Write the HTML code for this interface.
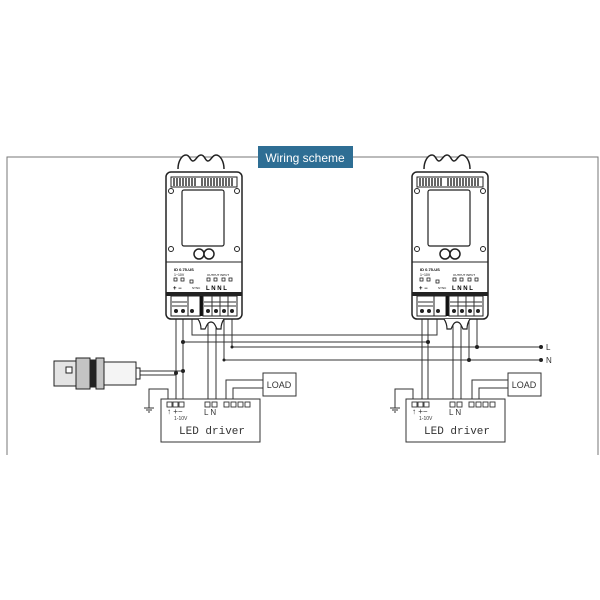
<!DOCTYPE html>
<html><head><style>body{margin:0;background:#fff}svg{display:block}</style></head><body>
<svg width="600" height="600" viewBox="0 0 600 600" xmlns="http://www.w3.org/2000/svg" font-family="Liberation Sans, sans-serif">
<g fill="none" stroke="#777" stroke-width="1">
<path d="M7 455V157H258M352 157H598V455"/>
</g>
<rect x="258" y="146" width="95" height="22" fill="#2e6e94"/>
<text x="305" y="162" font-size="12" fill="#fff" text-anchor="middle">Wiring scheme</text>

<defs>
<g id="sensor">
<path d="M12 -3c0-8 4-14 8-14s4 6 7 6 4-6 8-6 4 6 7 6 4-6 8-6 8 6 8 14" fill="#fff" stroke="#222" stroke-width="1.5"/>
<rect x="0" y="0" width="76" height="147" rx="5" fill="#fff" stroke="#222" stroke-width="1.5"/>
<rect x="5" y="5" width="66" height="10" fill="#fff" stroke="#222"/>
<path d="M8 6v8M11 6v8M14 6v8M17 6v8M20 6v8M23 6v8M26 6v8M29 6v8M36 6v8M39 6v8M42 6v8M45 6v8M48 6v8M51 6v8M54 6v8M57 6v8M60 6v8M63 6v8M66 6v8" stroke="#333" stroke-width="1.5"/>
<circle cx="5" cy="19" r="2.5" fill="#fff" stroke="#222"/><circle cx="71" cy="19" r="2.5" fill="#fff" stroke="#222"/>
<circle cx="5" cy="77" r="2.5" fill="#fff" stroke="#222"/><circle cx="71" cy="77" r="2.5" fill="#fff" stroke="#222"/>
<rect x="16" y="18" width="42" height="56" rx="2" fill="#fff" stroke="#222" stroke-width="1.2"/>
<path d="M0 90H76" stroke="#222"/>
<circle cx="33" cy="82" r="5" fill="#fff" stroke="#222" stroke-width="1.5"/><circle cx="43" cy="82" r="5" fill="#fff" stroke="#222" stroke-width="1.5"/>
<text x="8" y="99" font-size="4" font-weight="bold">ID 0.75-US</text>
<text x="8" y="104" font-size="3.5">1~10V</text>
<text x="41" y="104" font-size="3">OUTPUT INPUT</text>
<g fill="#fff" stroke="#222" stroke-width=".8">
<rect x="8" y="106" width="3" height="3"/><rect x="15" y="106" width="3" height="3"/><rect x="24" y="108" width="3" height="3"/>
<rect x="41" y="106" width="3" height="3"/><rect x="48" y="106" width="3" height="3"/><rect x="56" y="106" width="3" height="3"/><rect x="63" y="106" width="3" height="3"/>
</g>
<text x="7" y="118" font-size="6" font-weight="bold">+ −</text>
<text x="26" y="117" font-size="3">SYNC</text>
<text x="40" y="118" font-size="6" font-weight="bold">L N N L</text>
<rect x="0" y="120" width="76" height="4" fill="#222"/>
<rect x="5" y="124" width="17" height="20" fill="#fff" stroke="#222"/>
<rect x="22" y="124" width="12" height="20" fill="#fff" stroke="#222"/>
<rect x="34" y="124" width="3" height="20" fill="#111"/>
<rect x="37" y="124" width="34" height="20" fill="#fff" stroke="#222"/>
<path d="M6 130h15M6 134h15M38 130h32M38 134h32M46 124v20M54 124v20M62 124v20" stroke="#333"/>
<g fill="#222"><circle cx="10" cy="139" r="2"/><circle cx="17" cy="139" r="2"/><circle cx="26" cy="139" r="2"/><circle cx="42" cy="139" r="2"/><circle cx="50" cy="139" r="2"/><circle cx="58" cy="139" r="2"/><circle cx="66" cy="139" r="2"/></g>
<path d="M32 147c2 3 3 6 3 10h4c2-4 3-7 6-7s4 3 6 7h4c0-4 1-7 3-10" fill="#fff" stroke="#222" stroke-width="1.2"/>
</g>
<g id="driver">
<rect x="0" y="0" width="99" height="43" fill="#fff" stroke="#333"/>
<g fill="#fff" stroke="#333" stroke-width=".9">
<rect x="6" y="3" width="5" height="5"/><rect x="12" y="3" width="5" height="5"/><rect x="18" y="3" width="5" height="5"/>
<rect x="44" y="3" width="5" height="5"/><rect x="51" y="3" width="5" height="5"/>
<rect x="63" y="3" width="5" height="5"/><rect x="70" y="3" width="5" height="5"/><rect x="77" y="3" width="5" height="5"/><rect x="84" y="3" width="5" height="5"/>
</g>
<text x="6" y="15" font-size="8" fill="#333">↑ +−</text>
<text x="13" y="21" font-size="5" fill="#333">1-10V</text>
<text x="43" y="16" font-size="8" fill="#333">L N</text>
<text x="18" y="35" font-size="11" fill="#333" font-family="Liberation Mono, monospace">LED driver</text>
</g>
</defs>

<g fill="none" stroke="#333" stroke-width="1">
<path d="M176 315V402M183 315V402M192 315V335H437V315"/>
<path d="M208 315V402M216 315V402"/>
<path d="M183 342H428"/>
<path d="M232 315V347H541"/>
<path d="M224 315V360H541"/>
<path d="M140 371H183M140 375H176"/>
<path d="M422 315V402M428 315V402M453 315V402M461 315V402M469 315V360M477 315V347"/>
<path d="M168 402V389H149V408M144 408h10M146 410h6M148 412h2"/>
<path d="M413 402V389H395V408M390 408h10M392 410h6M394 412h2"/>
<path d="M226 402V380H263M233 402V388H263"/>
<path d="M472 402V380H508M479 402V388H508"/>
</g>
<g fill="#222">
<circle cx="183" cy="342" r="2"/><circle cx="428" cy="342" r="2"/>
<circle cx="232" cy="347" r="1.5"/><circle cx="224" cy="360" r="1.5"/>
<circle cx="477" cy="347" r="2"/><circle cx="469" cy="360" r="2"/>
<circle cx="541" cy="347" r="2"/><circle cx="541" cy="360" r="2"/>
<circle cx="176" cy="373" r="2"/><circle cx="183" cy="371" r="2"/>
</g>
<text x="546" y="350" font-size="8" fill="#333">L</text>
<text x="546" y="363" font-size="8" fill="#333">N</text>

<use href="#sensor" x="166" y="172"/>
<use href="#sensor" x="412" y="172"/>
<use href="#driver" x="161" y="399"/>
<use href="#driver" x="406" y="399"/>

<rect x="263" y="373" width="33" height="23" fill="#fff" stroke="#333"/>
<text x="279" y="388" font-size="9" text-anchor="middle" fill="#333">LOAD</text>
<rect x="508" y="373" width="33" height="23" fill="#fff" stroke="#333"/>
<text x="524" y="388" font-size="9" text-anchor="middle" fill="#333">LOAD</text>

<g stroke="#222" fill="#fff">
<rect x="54" y="361" width="22" height="25" fill="#e4e4e4"/>
<rect x="66" y="367" width="6" height="6" fill="#fff"/>
<rect x="76" y="358" width="14" height="31" fill="#c4c4c4"/>
<rect x="90" y="360" width="6" height="27" fill="#222"/>
<rect x="96" y="358" width="8" height="31" fill="#c4c4c4"/>
<rect x="104" y="362" width="32" height="23" fill="#f4f4f4"/>
<rect x="136" y="368" width="4" height="11"/>
</g>
</svg>
</body></html>
